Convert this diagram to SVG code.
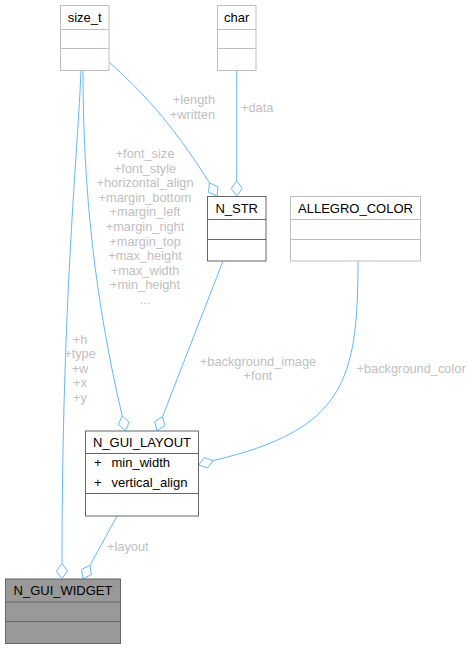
<svg xmlns="http://www.w3.org/2000/svg" width="473" height="649" viewBox="0 0 473 649">
<style>
.ext{fill:#ffffff;stroke:#bfbfbf;stroke-width:1}
.doc{fill:#ffffff;stroke:#666666;stroke-width:1}
.cur{fill:#999999;stroke:#666666;stroke-width:1}
.sepx{stroke:#bfbfbf;stroke-width:1}
.sepd{stroke:#666666;stroke-width:1}
.t{font-family:"Liberation Sans",Arial,sans-serif;font-size:13px;fill:#000000}
.m{text-anchor:middle}
.e{fill:none;stroke:#63b8ff;stroke-width:1}
.d{fill:#ffffff;stroke:#63b8ff;stroke-width:1}
.l{font-family:"Liberation Sans",Arial,sans-serif;font-size:12.8px;fill:#c0c0c0}
</style>
<g id="edges">
<path class="e" d="M81,70.5 C78,150 62,300 62,563.5"/>
<polygon class="d" points="62,578.7 56.5,571.1 62,563.5 67.5,571.1"/>
<path class="e" d="M83,70.5 C83,190 95,300 122.2,416"/>
<polygon class="d" points="125.5,430.7 129.25,422.15 122.2,416 118.45,424.55"/>
<path class="e" d="M109,62 C140,90 170,120 209.5,183"/>
<polygon class="d" points="217,196 218,186.75 209.5,183 208.5,192.25"/>
<path class="e" d="M236.7,70.5 L236.7,181"/>
<polygon class="d" points="236.7,196 231.2,188.5 236.7,181 242.2,188.5"/>
<path class="e" d="M223,261 L162.5,416.75"/>
<polygon class="d" points="157,430.7 164.9,425.7 162.5,416.75 154.7,421.7"/>
<path class="e" d="M358,261 C358,380 345,430 213,460.6"/>
<polygon class="d" points="198.7,465 207.5,468 213,460.6 204.3,457.5"/>
<path class="e" d="M117,516 L90,565.4"/>
<polygon class="d" points="83,578.7 91.4,574.6 90,565.4 81.6,569.4"/>
<text class="l" text-anchor="end" x="215" y="104">+length</text>
<text class="l" text-anchor="end" x="215" y="118.7">+written</text>
<text class="l" x="241" y="112">+data</text>
<g class="l" text-anchor="middle">
<text x="145" y="158">+font_size</text>
<text x="145" y="172.6">+font_style</text>
<text x="145" y="187.2">+horizontal_align</text>
<text x="145" y="201.8">+margin_bottom</text>
<text x="145" y="216.4">+margin_left</text>
<text x="145" y="231">+margin_right</text>
<text x="145" y="245.6">+margin_top</text>
<text x="145" y="260.2">+max_height</text>
<text x="145" y="274.8">+max_width</text>
<text x="145" y="289.4">+min_height</text>
<text x="145" y="304">...</text>
<text x="80" y="343.5">+h</text>
<text x="80" y="358.1">+type</text>
<text x="80" y="372.7">+w</text>
<text x="80" y="387.3">+x</text>
<text x="80" y="401.9">+y</text>
<text x="258" y="365.5">+background_image</text>
<text x="258" y="380">+font</text>
</g>
<text class="l" x="356.5" y="373">+background_color</text>
<text class="l" x="107" y="550.5">+layout</text>
</g>
<g id="size_t">
<rect class="ext" x="60.5" y="5.5" width="48.5" height="65"/>
<line class="sepx" x1="60.5" y1="29.5" x2="109" y2="29.5"/>
<line class="sepx" x1="60.5" y1="48.5" x2="109" y2="48.5"/>
<text class="t m" x="84.7" y="21.5">size_t</text>
</g>
<g id="char">
<rect class="ext" x="217.5" y="5.5" width="38.5" height="65"/>
<line class="sepx" x1="217.5" y1="29.5" x2="256" y2="29.5"/>
<line class="sepx" x1="217.5" y1="48.5" x2="256" y2="48.5"/>
<text class="t m" x="236.7" y="21.5">char</text>
</g>
<g id="N_STR">
<rect class="doc" x="207.5" y="196.5" width="58.5" height="64.5"/>
<line class="sepd" x1="207.5" y1="219.5" x2="266" y2="219.5"/>
<line class="sepd" x1="207.5" y1="239.5" x2="266" y2="239.5"/>
<text class="t m" x="236.7" y="212.5">N_STR</text>
</g>
<g id="ALLEGRO_COLOR">
<rect class="ext" x="290.5" y="196.5" width="130" height="64.5"/>
<line class="sepx" x1="290.5" y1="219.5" x2="420.5" y2="219.5"/>
<line class="sepx" x1="290.5" y1="239.5" x2="420.5" y2="239.5"/>
<text class="t m" x="355.5" y="212.5">ALLEGRO_COLOR</text>
</g>
<g id="N_GUI_LAYOUT">
<rect class="doc" x="85.5" y="431" width="113" height="85"/>
<line class="sepd" x1="85.5" y1="453.5" x2="198.5" y2="453.5"/>
<line class="sepd" x1="85.5" y1="493.5" x2="198.5" y2="493.5"/>
<text class="t m" x="142" y="447.2">N_GUI_LAYOUT</text>
<text class="t" x="94" y="467">+</text>
<text class="t" x="111.5" y="467">min_width</text>
<text class="t" x="94" y="487">+</text>
<text class="t" x="111.5" y="487">vertical_align</text>
</g>
<g id="N_GUI_WIDGET">
<rect class="cur" x="5.5" y="579" width="115" height="64.5"/>
<line class="sepd" x1="5.5" y1="602" x2="120.5" y2="602"/>
<line class="sepd" x1="5.5" y1="621.5" x2="120.5" y2="621.5"/>
<text class="t m" x="63" y="595">N_GUI_WIDGET</text>
</g>
</svg>
